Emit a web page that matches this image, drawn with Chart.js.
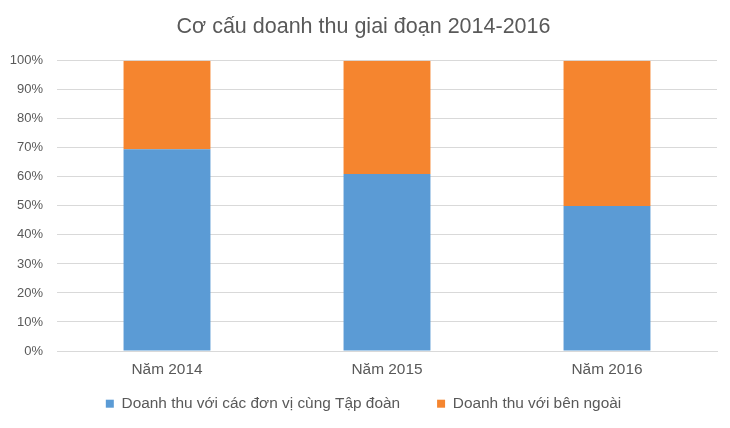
<!DOCTYPE html>
<html>
<head>
<meta charset="utf-8">
<script src="https://cdn.jsdelivr.net/npm/chart.js@4/dist/chart.umd.min.js"></script>
<style>
  html, body { margin: 0; padding: 0; background: #fff; }
  #wrap { width: 730px; height: 428px; }
</style>
</head>
<body>
<div id="wrap"><canvas id="barChart"></canvas></div>
<script>
// Data
var years = ['Năm 2014', 'Năm 2015', 'Năm 2016'];
var groupShare = [69.5, 61, 50];
var outsideShare = [30.5, 39, 50];

var ctx = document.getElementById('barChart').getContext('2d');

// the legend wants a wide gap between items (padding 37) but that padding
// also goes above the items, so let its box start higher, over the x labels
var LEGEND_LIFT = 24;
var liftLegend = {
    id: 'liftLegend',
    afterLayout: function (chart) {
        chart.legend.top -= LEGEND_LIFT;
        chart.legend.height += LEGEND_LIFT;
    }
};

var myChart = new Chart(ctx, {
    type: 'bar',
    data: {
        labels: years,
        datasets: [{
            label: 'Doanh thu với các đơn vị cùng Tập đoàn',
            data: groupShare,
            backgroundColor: '#5b9bd5'
        }, {
            label: 'Doanh thu với bên ngoài',
            data: outsideShare,
            backgroundColor: '#f5852f'
        }]
    },
    plugins: [liftLegend],
    options: {
        responsive: true,
        maintainAspectRatio: false,
        animation: false,
        layout: { padding: { left: 10, right: 13, top: 8, bottom: 7 } },
        datasets: {
            bar: { barPercentage: 0.395, categoryPercentage: 1 }
        },
        plugins: {
            title: {
                display: true,
                text: 'Cơ cấu doanh thu giai đoạn 2014-2016',
                color: '#595959',
                font: { family: 'Liberation Sans', size: 21.5, weight: 'normal' },
                padding: { top: 6, bottom: 21 }
            },
            legend: {
                position: 'bottom',
                maxHeight: 38,
                labels: {
                    color: '#595959',
                    font: { family: 'Liberation Sans', size: 15.4 },
                    boxWidth: 8,
                    boxHeight: 8,
                    padding: 37
                }
            },
            tooltip: { enabled: false }
        },
        scales: {
            x: {
                stacked: true,
                grid: { display: false, drawTicks: false },
                border: { color: '#d9d9d9' },
                ticks: {
                    color: '#595959',
                    font: { family: 'Liberation Sans', size: 15.4 },
                    padding: 10
                },
                afterFit: function (scale) { scale.height = 32; }
            },
            y: {
                stacked: true,
                min: 0,
                max: 100,
                ticks: {
                    stepSize: 10,
                    color: '#595959',
                    font: { family: 'Liberation Sans', size: 13 },
                    padding: 14,
                    callback: function (v) { return v + '%'; }
                },
                grid: { color: '#d9d9d9', drawTicks: false },
                border: { display: false },
                afterFit: function (scale) { scale.width = 47; }
            }
        }
    }
});
</script>
</body>
</html>
